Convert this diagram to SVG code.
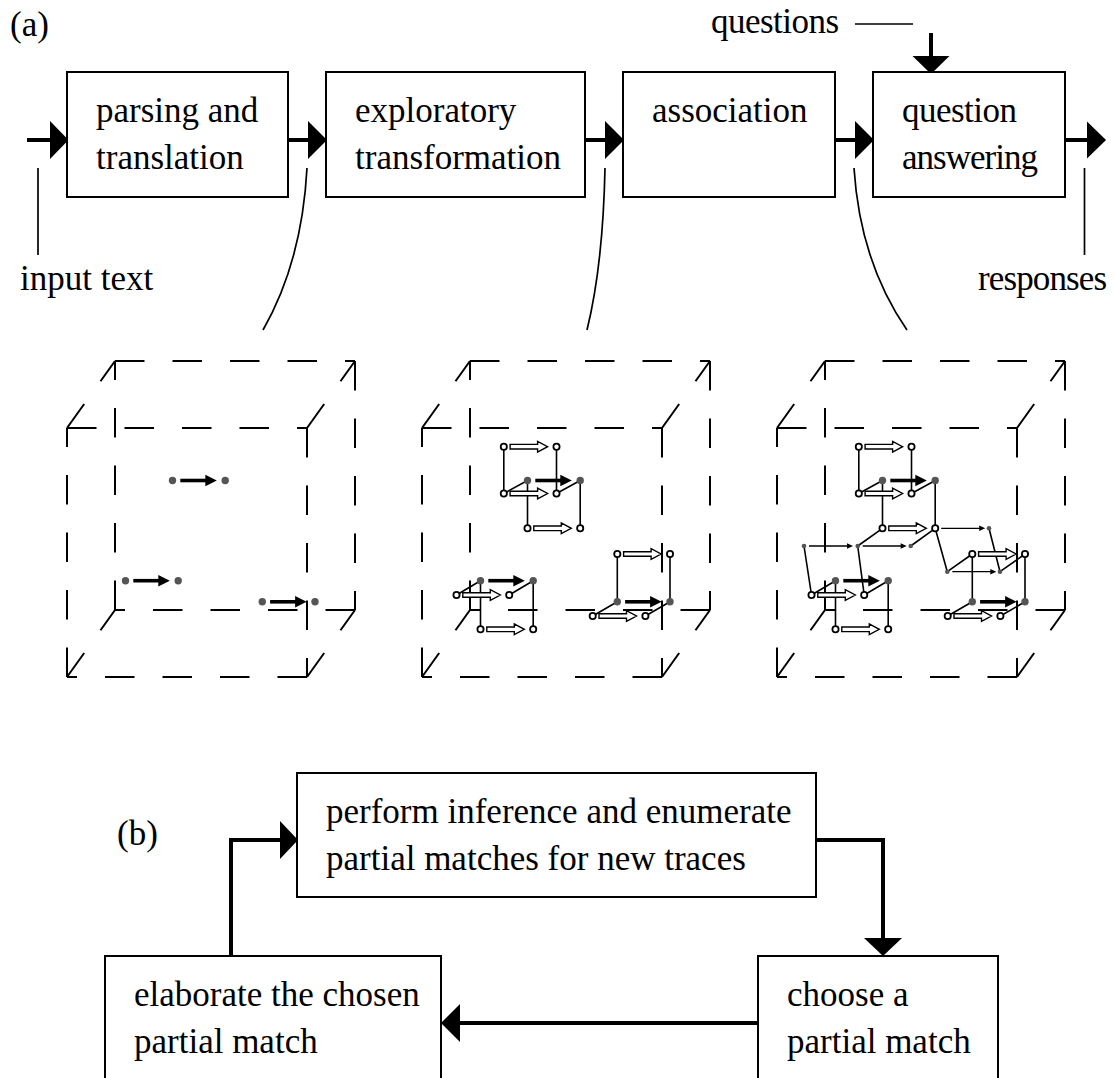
<svg xmlns="http://www.w3.org/2000/svg" width="1115" height="1078" viewBox="0 0 1115 1078">
<style>
  text { font-family: "Liberation Serif", "Times New Roman", serif; font-size: 35px; fill: #000; }
  .box { fill: #fff; stroke: #000; stroke-width: 2; }
  .conn { fill: none; stroke: #000; stroke-width: 4; }
  .lead { fill: none; stroke: #000; stroke-width: 1.7; }
  .head { fill: #000; }
  .dash { stroke: #000; stroke-width: 2; stroke-dasharray: 29.5 28; fill: none; }
  .ln { fill: none; stroke: #000; stroke-width: 1.6; }
  .oc { fill: #fff; stroke: #000; stroke-width: 1.8; }
  .gd { fill: #555; }
  .sd { fill: #555; }
</style>
<defs>
  <g id="frame">
    <line class="dash" x1="67" y1="428" x2="307" y2="428"/>
    <line class="dash" x1="307" y1="428" x2="307" y2="677"/>
    <line class="dash" x1="67" y1="677" x2="67" y2="428"/>
    <line class="dash" x1="307" y1="677" x2="67" y2="677"/>
    <line class="dash" x1="115" y1="361" x2="355" y2="361"/>
    <line class="dash" x1="355" y1="361" x2="355" y2="610"/>
    <line class="dash" x1="115" y1="610" x2="115" y2="361"/>
    <line class="dash" x1="355" y1="610" x2="115" y2="610"/>
    <line class="dash" x1="67" y1="428" x2="115" y2="361"/>
    <line class="dash" x1="307" y1="428" x2="355" y2="361"/>
    <line class="dash" x1="67" y1="677" x2="115" y2="610"/>
    <line class="dash" x1="307" y1="677" x2="355" y2="610"/>
  </g>
  <g id="thick">
    <line x1="0" y1="0" x2="26" y2="0" stroke="#000" stroke-width="3.6"/>
    <polygon points="25,-5.8 36.5,0 25,5.8" fill="#000"/>
  </g>
  <path id="dbl" d="M0,-2.3 H27.5 V-5.4 L37.5,0 L27.5,5.4 V2.3 H0 Z" fill="#fff" stroke="#000" stroke-width="1.4"/>
  <g id="thin">
    <line x1="0" y1="0" x2="40" y2="0" stroke="#000" stroke-width="1.3"/>
    <polygon points="38,-2.7 44,0 38,2.7" fill="#000"/>
  </g>

  <g id="pairArrows">
    <use href="#thick" x="180.3" y="480.5"/>
    <use href="#thick" x="133.3" y="580.7"/>
    <use href="#thick" x="270.1" y="601.8"/>
  </g>
  <g id="pairNodes">
    <circle class="gd" cx="172.5" cy="480.5" r="3.7"/>
    <circle class="gd" cx="225.2" cy="480.5" r="3.7"/>
    <circle class="gd" cx="125.5" cy="580.7" r="3.7"/>
    <circle class="gd" cx="178.2" cy="580.7" r="3.7"/>
    <circle class="gd" cx="262.3" cy="601.8" r="3.7"/>
    <circle class="gd" cx="315" cy="601.8" r="3.7"/>
  </g>

  <path id="clusterLines" class="ln" d="M148.8,446.7V493.5 M201.5,446.7V493.5 M148.8,493.5L172.5,480.5 M201.5,493.5L225.2,480.5 M172.5,480.5V528.3 M225.2,480.5V528.3 M101.5,595L125.5,580.7 M154.2,595L178.2,580.7 M125.5,580.7V629.3 M178.2,580.7V629.3 M262.3,554V601.8 M315,554V601.8 M237.7,616L262.3,601.8 M290.4,616L315,601.8"/>
  <g id="clusterArrows">
    <use href="#dbl" x="155.1" y="446.7"/>
    <use href="#dbl" x="155.1" y="493.5"/>
    <use href="#dbl" x="178.8" y="528.3"/>
    <use href="#dbl" x="107.8" y="595"/>
    <use href="#dbl" x="131.8" y="629.3"/>
    <use href="#dbl" x="268.6" y="554"/>
    <use href="#dbl" x="244" y="616"/>
  </g>
  <g id="clusterNodes">
    <circle class="oc" cx="148.8" cy="446.7" r="3.1"/>
    <circle class="oc" cx="201.5" cy="446.7" r="3.1"/>
    <circle class="oc" cx="148.8" cy="493.5" r="3.1"/>
    <circle class="oc" cx="201.5" cy="493.5" r="3.1"/>
    <circle class="oc" cx="172.5" cy="528.3" r="3.1"/>
    <circle class="oc" cx="225.2" cy="528.3" r="3.1"/>
    <circle class="oc" cx="101.5" cy="595" r="3.1"/>
    <circle class="oc" cx="154.2" cy="595" r="3.1"/>
    <circle class="oc" cx="125.5" cy="629.3" r="3.1"/>
    <circle class="oc" cx="178.2" cy="629.3" r="3.1"/>
    <circle class="oc" cx="262.3" cy="554" r="3.1"/>
    <circle class="oc" cx="315" cy="554" r="3.1"/>
    <circle class="oc" cx="237.7" cy="616" r="3.1"/>
    <circle class="oc" cx="290.4" cy="616" r="3.1"/>
  </g>

  <path id="extraLines" class="ln" d="M147.7,546L172.5,528.3 M200.7,546L225.2,528.3 M94,546L101.5,595 M147.7,546L154.2,595 M225.2,528.3L237.3,571.7 M279,528.3L290,571.7 M237.3,571.7L262.3,554 M290,571.7L315,554"/>
  <g id="extraArrows">
    <use href="#thin" x="99" y="546"/>
    <use href="#thin" x="152.7" y="546"/>
    <use href="#thin" x="231.2" y="528.3"/>
    <use href="#thin" x="242.3" y="571.7"/>
  </g>
  <g id="extraNodes">
    <circle class="sd" cx="94" cy="546" r="2.3"/>
    <circle class="sd" cx="147.7" cy="546" r="2.3"/>
    <circle class="sd" cx="200.7" cy="546" r="2.3"/>
    <circle class="sd" cx="279" cy="528.3" r="2.3"/>
    <circle class="sd" cx="237.3" cy="571.7" r="2.3"/>
    <circle class="sd" cx="290" cy="571.7" r="2.3"/>
  </g>
</defs>

<rect x="0" y="0" width="1115" height="1078" fill="#fff"/>

<text x="10" y="36">(a)</text>
<text x="117" y="845">(b)</text>

<g id="connectors">
  <path class="conn" d="M27,140H52"/>
  <polygon class="head" points="50,121 68.5,140 50,159"/>
  <path class="conn" d="M288,140H310"/>
  <polygon class="head" points="308,121 327,140 308,159"/>
  <path class="conn" d="M585,140H606"/>
  <polygon class="head" points="605,121 624,140 605,159"/>
  <path class="conn" d="M835,140H856"/>
  <polygon class="head" points="855,121 874,140 855,159"/>
  <path class="conn" d="M1065,140H1089"/>
  <polygon class="head" points="1087,121.5 1106,140 1087,158.5"/>
  <path class="conn" d="M931,33V58"/>
  <polygon class="head" points="912.5,56 949.5,56 931,74"/>

  <path class="lead" d="M38,168V255"/>
  <path class="lead" d="M1084.5,168V255"/>
  <path class="lead" d="M855,24H913"/>

  <path class="lead" d="M307,168 Q302,262 263,330"/>
  <path class="lead" d="M605,168 Q603,265 587,330"/>
  <path class="lead" d="M854,168 Q860,262 907,330"/>

  <path class="conn" d="M231,956V840H281"/>
  <polygon class="head" points="280,821 298,840 280,859"/>
  <path class="conn" d="M816,840H883V939"/>
  <polygon class="head" points="864,938 902,938 883,956"/>
  <path class="conn" d="M758,1023H459"/>
  <polygon class="head" points="460,1004 441,1023 460,1042"/>
</g>

<g id="label-input"><text x="20" y="290">input text</text></g>
<g id="label-questions"><text x="711" y="33" textLength="128">questions</text></g>
<g id="label-responses"><text x="978" y="290" textLength="129">responses</text></g>

<g id="node-parsing">
  <rect class="box" x="67" y="72" width="221" height="125"/>
  <text x="96" y="121.5">parsing and</text>
  <text x="96" y="168.5">translation</text>
</g>
<g id="node-exploratory">
  <rect class="box" x="326" y="72" width="259" height="125"/>
  <text x="355" y="121.5">exploratory</text>
  <text x="355" y="168.5">transformation</text>
</g>
<g id="node-association">
  <rect class="box" x="623" y="72" width="212" height="125"/>
  <text x="652" y="121.5">association</text>
</g>
<g id="node-qa">
  <rect class="box" x="873" y="72" width="192" height="125"/>
  <text x="902" y="121.5" textLength="115">question</text>
  <text x="902" y="168.5" textLength="136">answering</text>
</g>

<g id="cube-1">
  <use href="#frame"/>
  <use href="#pairArrows"/>
  <use href="#pairNodes"/>
</g>
<g id="cube-2" transform="translate(355,0)">
  <use href="#frame"/>
  <use href="#clusterLines"/>
  <use href="#pairArrows"/>
  <use href="#clusterArrows"/>
  <use href="#clusterNodes"/>
  <use href="#pairNodes"/>
</g>
<g id="cube-3" transform="translate(710,0)">
  <use href="#frame"/>
  <use href="#extraLines"/>
  <use href="#clusterLines"/>
  <use href="#extraArrows"/>
  <use href="#pairArrows"/>
  <use href="#clusterArrows"/>
  <use href="#extraNodes"/>
  <use href="#clusterNodes"/>
  <use href="#pairNodes"/>
</g>

<g id="node-perform">
  <rect class="box" x="297" y="773" width="519" height="124"/>
  <text x="326" y="822.5">perform inference and enumerate</text>
  <text x="326" y="869.5">partial matches for new traces</text>
</g>
<g id="node-elaborate">
  <rect class="box" x="105" y="956" width="336" height="140"/>
  <text x="134" y="1005.5">elaborate the chosen</text>
  <text x="134" y="1052.5">partial match</text>
</g>
<g id="node-choose">
  <rect class="box" x="758" y="956" width="240" height="140"/>
  <text x="787" y="1005.5">choose a</text>
  <text x="787" y="1052.5">partial match</text>
</g>
</svg>
